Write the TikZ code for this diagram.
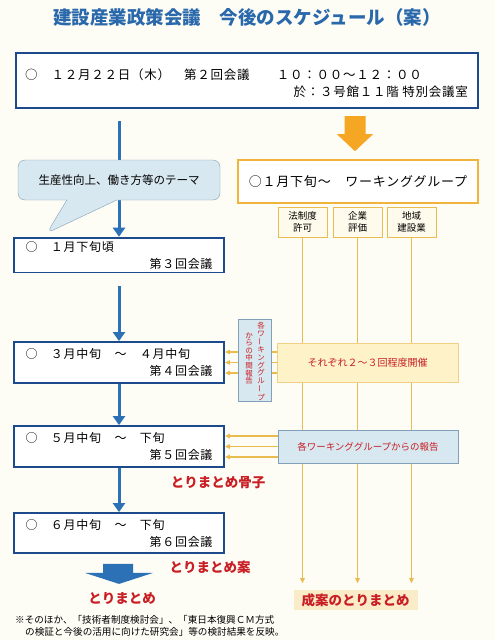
\documentclass[tikz,border=0pt]{standalone}
\usepackage{fontspec}
\setmainfont{Noto Sans CJK JP}
\newfontfamily\spacedjp{Noto Sans CJK JP}[LetterSpace=6]
\usepackage{graphicx}
\usepackage{tikz}
\usetikzlibrary{arrows.meta,positioning,calc,shapes.callouts,backgrounds}
\definecolor{titleblue}{RGB}{42,104,172}
\definecolor{navy}{RGB}{28,74,140}
\definecolor{flowblue}{RGB}{44,112,182}
\definecolor{wgorange}{RGB}{245,166,35}
\definecolor{wgframe}{RGB}{240,180,60}
\definecolor{wgline}{RGB}{234,188,80}
\definecolor{paleyellow}{RGB}{253,242,200}
\definecolor{palecream}{RGB}{255,251,236}
\definecolor{paleblue}{RGB}{216,232,240}
\definecolor{greyblue}{RGB}{130,160,185}
\definecolor{reportred}{RGB}{200,30,36}
\definecolor{finalfill}{RGB}{250,236,200}
\definecolor{paper}{RGB}{253,252,245}
\newcommand\chouon{\rotatebox[origin=c]{90}{ー}}

\begin{document}
\begin{tikzpicture}[x=1pt, y=-1pt,
  meet/.style={draw=navy, line width=1.8pt, fill=white, minimum width=210pt,
               text width=187pt, align=left, font=\fontsize{12}{17}\spacedjp},
  flow/.style={draw=flowblue, line width=3pt, -{Triangle[width=12pt,length=9pt]}},
  wgbox/.style={draw=wgline, line width=1pt, fill=palecream, minimum width=49pt,
                minimum height=30pt, align=center, inner sep=1pt,
                font=\fontsize{9.5}{12}\selectfont},
  wgarrow/.style={draw=wgline, line width=1.2pt, -{Triangle[width=4.5pt,length=5pt]}},
  redlabel/.style={text=reportred, font=\fontsize{13.5}{16}\bfseries},
  vcol/.style={text=reportred, align=center, inner sep=0pt,
               font=\fontsize{7.5}{7.6}\selectfont},
  node distance=5pt]
  \useasboundingbox (0,0) rectangle (495,640);

  % title and first meeting
  \node[text=titleblue, font=\fontsize{18.5}{20}\bfseries] (title) at (247,17)
    {建設産業政策会議　今後のスケジュール（案）};
  \node[draw=navy, line width=1.8pt, fill=white, minimum width=462pt,
        minimum height=55pt] (second) at (247,80.5) {};
  \node[anchor=west, inner sep=0pt, font=\fontsize{12.5}{15}\spacedjp] (secdate) at (25,75)
    {○　１２月２２日（木）　第２回会議　　１０：００～１２：００};
  \node[anchor=east, inner sep=0pt, font=\fontsize{12.5}{15}\spacedjp] (secroom) at (468,92)
    {於：３号館１１階 特別会議室};

  % meetings
  \node[meet, minimum height=34pt] (meet1) at (119,255) {○　１月下旬頃\\\mbox{}\hfill 第３回会議};
  \node[meet, minimum height=41pt] (meet3) at (119,362.5) {○　３月中旬　～　４月中旬\\\mbox{}\hfill 第４回会議};
  \node[meet, minimum height=41pt] (meet5) at (119,446.5) {○　５月中旬　～　下旬\\\mbox{}\hfill 第５回会議};
  \node[meet, minimum height=40pt] (meet6) at (119,533) {○　６月中旬　～　下旬\\\mbox{}\hfill 第６回会議};

  \node[rectangle callout, callout absolute pointer={(47,233)}, callout pointer width=50pt,
        rounded corners=7pt, draw=greyblue, fill=paleblue, minimum width=202pt,
        minimum height=40pt, font=\fontsize{11.5}{14}\selectfont] (theme) at (119,180)
    {生産性向上、働き方等のテーマ};

  % working groups
  \node[draw=wgframe, line width=1.6pt, fill=white, minimum width=240pt, minimum height=43pt,
        font=\fontsize{13}{15}\spacedjp] (wg) at (358,181.5) {○１月下旬～　ワーキンググループ};
  \node[wgbox] (law) at (302.5,222) {法制度\\許可};
  \node[wgbox, right=of law] (firm) {企業\\評価};
  \node[wgbox, right=4pt of firm] (local) {地域\\建設業};

  \node[draw=wgline!70, line width=0.8pt, fill=paleyellow, minimum width=181pt,
        minimum height=39pt, text=reportred, font=\fontsize{10}{12}\selectfont] (each)
    at (367.5,362.5) {それぞれ２～３回程度開催};
  \node[draw=greyblue, line width=0.8pt, fill=paleblue, minimum width=180pt,
        minimum height=33pt, text=reportred, font=\fontsize{9.5}{12}\selectfont] (report)
    at (368,446.5) {各ワーキンググループからの報告};
  \node[draw=greyblue, line width=0.8pt, fill=paleblue, minimum width=33pt,
        minimum height=82pt] (midreport) at (254.5,360) {};
  \node[vcol, anchor=north] (vcolr) at (261,322) {各\\ワ\\\chouon\\キ\\ン\\グ\\グ\\ル\\\chouon\\プ};
  \node[vcol, anchor=north] (vcoll) at (249,332) {か\\ら\\の\\中\\間\\報\\告};

  % outcomes
  \node[redlabel] (skeleton) at (218,483) {とりまとめ骨子};
  \node[redlabel] (draftsum) at (210,567) {とりまとめ案};
  \node[redlabel] (summary) at (122,598) {とりまとめ};
  \node[redlabel, fill=finalfill, inner xsep=8pt, inner ysep=3pt] (final) at (355.5,600)
    {成案のとりまとめ};
  \fill[flowblue, shift={(meet6.south)}] (-16,10) -- (14,10) -- (14,19) -- (34,19)
    -- (0,30) -- (-34,19) -- (-16,19) -- cycle;
  \fill[wgorange, shift={($(wg.north)+(-3,0)$)}] (-10.5,-43) -- (10.5,-43) -- (10.5,-25)
    -- (18,-25) -- (0,-8) -- (-18,-25) -- (-10.5,-25) -- cycle;

  \node[anchor=west, inner sep=0pt, font=\fontsize{9.6}{12}\selectfont] (note1) at (15,620)
    {※そのほか、「技術者制度検討会」、「東日本復興ＣＭ方式};
  \node[anchor=west, inner sep=0pt, font=\fontsize{9.6}{12}\selectfont] (note2) at (25,632)
    {の検証と今後の活用に向けた研究会」等の検討結果を反映。};

  \begin{scope}[on background layer]
    \fill[paper] (0,0) rectangle (495,640);
    \draw[flow, shorten <=12pt] (second.south -| meet1) -- (meet1);
    \draw[flow, shorten <=13pt] (meet1) -- (meet3);
    \draw[flow] (meet3) -- (meet5);
    \draw[flow] (meet5) -- (meet6);
    \foreach \wgname in {law,firm,local}
      \draw[wgarrow, shorten >=7pt] (\wgname.south) -- (\wgname.south |- final.north);
    \foreach \d in {-10.5,0,10.5} {
      \draw[wgarrow] ($(each.west)+(0,\d)$) -- ($(meet3.east)+(0,\d)$);
      \draw[wgarrow] ($(report.west)+(0,\d)$) -- ($(meet5.east)+(0,\d)$);
    }
  \end{scope}
\end{tikzpicture}
\end{document}
